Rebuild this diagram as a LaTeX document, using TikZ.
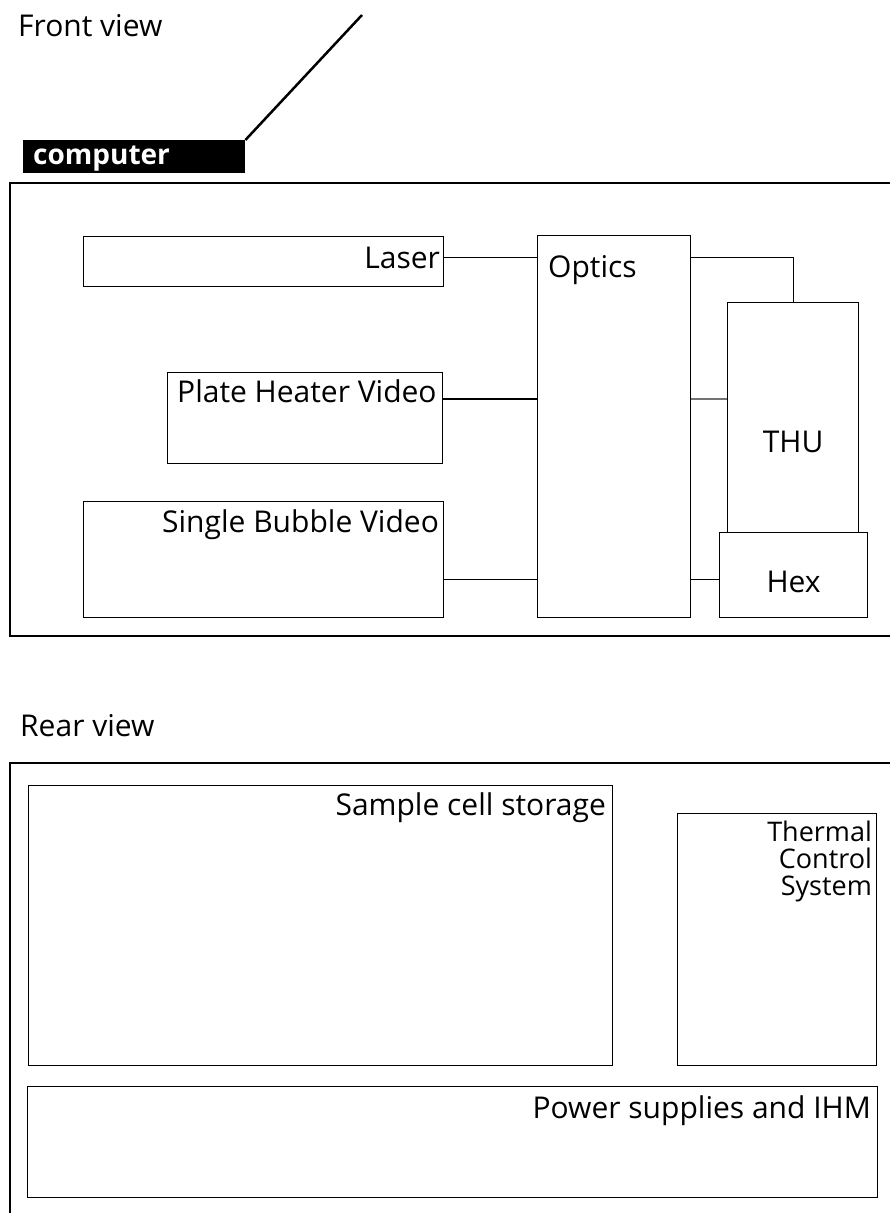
\documentclass[tikz,border=0pt]{standalone}
\usepackage{fontspec}
\setmainfont{Open Sans}
\usetikzlibrary{positioning}
\tikzset{
  box/.style={draw, line width=1.1pt, rectangle, inner sep=0pt, anchor=north west},
  link/.style={draw, line width=1.1pt},
  lbl/.style={inner sep=0pt, font=\fontsize{30}{22}\selectfont},
}
\begin{document}
\begin{tikzpicture}[x=1pt, y=-1pt]
  \useasboundingbox (0,0) rectangle (890,1213);
  % front view
  \node[lbl, anchor=base west] (fronttitle) at (18,36) {Front view};
  \node[fill=black, inner sep=0pt, minimum width=222pt, minimum height=33pt, anchor=north west] (computer) at (23,140) {};
  \node[lbl, anchor=base west, text=white, font=\fontsize{28}{30}\selectfont\bfseries] (computerlbl) at (33,164) {computer};
  \coordinate (cable) at (362,15);
  \draw[line width=2.5pt] (computer.north east) -- (cable);
  \draw[line width=1.3pt] (890,183) -- (10,183) -- (10,636) -- (890,636);

  \node[box, minimum width=360pt, minimum height=50pt] (laser) at (83,236) {};
  \node[box, minimum width=275pt, minimum height=91pt] (heater) at (167,372) {};
  \node[box, minimum width=360pt, minimum height=116pt] (bubble) at (83,501) {};
  \node[box, minimum width=153pt, minimum height=382pt] (optics) at (537,235) {};
  \node[box, minimum width=131pt, minimum height=230pt] (thu) at (727,302) {};
  \node[box, minimum width=148pt, minimum height=85pt] (hex) at (719,532) {};

  \node[lbl, anchor=base east] (laserlbl) at ([shift={(-4pt,-32pt)}]laser.north east) {Laser};
  \node[lbl, anchor=base west] (heaterlbl) at ([shift={(10pt,-30pt)}]heater.north west) {Plate Heater Video};
  \node[lbl, anchor=base east] (bubblelbl) at ([shift={(-5pt,-31pt)}]bubble.north east) {Single Bubble Video};
  \node[lbl, anchor=base west] (opticslbl) at ([shift={(11pt,-42pt)}]optics.north west) {Optics};
  \node[lbl, anchor=base] (thulbl) at ([yshift=-35pt]thu.center) {THU};
  \node[lbl, anchor=base] (hexlbl) at ([yshift=-17pt]hex.center) {Hex};

  % links to the optics bench
  \coordinate (laserport) at ([yshift=4pt]laser.east);
  \coordinate (heaterport) at ([yshift=-27pt]heater.north east);
  \coordinate (bubbleport) at ([yshift=39pt]bubble.south east);
  \draw[link] (laserport) -- (laserport -| optics.west);
  \draw[link] (heaterport) -- (heaterport -| optics.west);
  \draw[link] (bubbleport) -- (bubbleport -| optics.west);
  \draw[link] (laserport -| optics.east) -| (thu.north);
  \draw[link, black!55] (heaterport -| optics.east) -- (heaterport -| thu.west);
  \draw[link] (bubbleport -| optics.east) -- (bubbleport -| hex.west);

  % rear view
  \node[lbl, anchor=base west] (reartitle) at (20,736) {Rear view};
  \draw[line width=1.3pt] (890,763) -- (10,763) -- (10,1213);
  \node[box, minimum width=584pt, minimum height=280pt] (storage) at (28,785) {};
  \node[box, minimum width=199pt, minimum height=252pt] (tcs) at (677,813) {};
  \node[box, minimum width=850pt, minimum height=111pt] (power) at (27,1086) {};

  \node[lbl, anchor=base east] (storagelbl) at ([shift={(-7pt,-30pt)}]storage.north east) {Sample cell storage};
  \node[lbl, anchor=north east, align=right, font=\fontsize{27}{27}\selectfont] (tcslbl) at ([shift={(-5pt,-8pt)}]tcs.north east) {Thermal\\Control\\System};
  \node[lbl, anchor=base east] (powerlbl) at ([shift={(-7pt,-32pt)}]power.north east) {Power supplies and IHM};
\end{tikzpicture}
\end{document}
